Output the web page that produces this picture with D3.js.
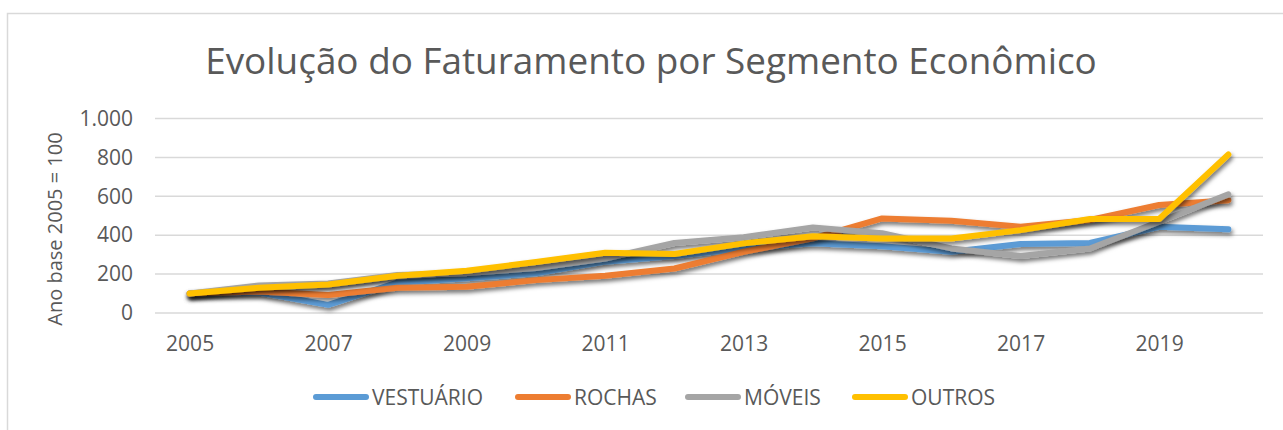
<!DOCTYPE html>
<html lang="pt">
    <head>
        <meta charset="utf-8">
        <title>Evolução do Faturamento por Segmento Econômico</title>
        <script type="text/javascript" src="https://cdn.jsdelivr.net/npm/d3@7"></script>
        <style>
            body { margin: 0; background: #fff; }
            svg text { font-family: "Open Sans", "DejaVu Sans", sans-serif; fill: #595959; }
        </style>
    </head>
    <body>
        <div class="chart"></div>
        <script type="text/javascript">
            // dados (índice, ano base 2005 = 100)
            var anos = [2005, 2006, 2007, 2008, 2009, 2010, 2011, 2012, 2013, 2014, 2015, 2016, 2017, 2018, 2019, 2020];
            var vestuario = [100, 105, 42, 156, 178, 204, 264, 293, 332, 358, 343, 315, 355, 360, 443, 430];
            var rochas    = [100, 110, 92, 130, 135, 169, 192, 229, 315, 384, 486, 474, 443, 478, 555, 580];
            var moveis    = [100, 142, 152, 195, 205, 231, 280, 360, 390, 440, 410, 332, 293, 332, 469, 610];
            var outros    = [100, 130, 147, 192, 217, 262, 310, 303, 358, 395, 383, 383, 426, 483, 483, 815];
            var yTicks = [0, 200, 400, 600, 800, 1000];
            var nomes = ["VESTUÁRIO", "ROCHAS", "MÓVEIS", "OUTROS"];
            var cores = ["#5B9BD5", "#ED7D31", "#A5A5A5", "#FFC000"];

            var series = [vestuario, rochas, moveis, outros].map(function(v, k){
                return {nome: nomes[k], cor: cores[k], valores: v};
            });

            var w = 1283;
            var h = 430;
            var svg = d3.select("div.chart")
                        .append("svg")
                        .attr("width", w)
                        .attr("height", h);

            // sombra das linhas
            var defs = svg.append("defs");
            defs.append("filter")
                .attr("id", "sombra")
                .attr("x", "-10%").attr("y", "-50%")
                .attr("width", "120%").attr("height", "200%")
                .append("feDropShadow")
                .attr("dx", 1.5)
                .attr("dy", 3)
                .attr("stdDeviation", 2.2)
                .attr("flood-color", "#000")
                .attr("flood-opacity", 0.55);

            // moldura
            svg.append("rect")
               .attr("x", 7.5).attr("y", 13.5)
               .attr("width", w).attr("height", h)
               .attr("fill", "none")
               .attr("stroke", "#D9D9D9")
               .attr("stroke-width", 1.5);

            // escalas
            var xScale = d3.scalePoint()
                           .domain(anos)
                           .range([155, 1263])
                           .padding(0.5);
            var yScale = d3.scaleLinear()
                           .domain([0, 1000])
                           .range([313, 118.5]);

            // grade horizontal
            svg.append("g")
               .selectAll("line")
               .data(yTicks)
               .enter()
               .append("line")
               .attr("x1", 155).attr("x2", 1263)
               .attr("y1", function(d){ return yScale(d); })
               .attr("y2", function(d){ return yScale(d); })
               .attr("stroke", "#D9D9D9")
               .attr("stroke-width", 1.5);

            // eixo y
            var yAxis = d3.axisLeft(yScale)
                          .tickValues(yTicks)
                          .tickSize(0)
                          .tickPadding(0)
                          .tickFormat(function(d){ return d3.format(",")(d).replace(",", "."); });
            var gy = svg.append("g")
                        .attr("transform", "translate(133, 0)")
                        .call(yAxis);
            gy.select(".domain").remove();
            gy.selectAll("text").attr("font-size", 21).attr("fill", "#595959")
              .style("font-family", "'Open Sans', sans-serif");

            // eixo x (rótulos a cada dois anos)
            var xAxis = d3.axisBottom(xScale)
                          .tickValues(anos.filter(function(d, i){ return i % 2 === 0; }))
                          .tickSize(0)
                          .tickPadding(0);
            var gx = svg.append("g")
                        .attr("transform", "translate(0, 334)")
                        .call(xAxis);
            gx.select(".domain").remove();
            gx.selectAll("text").attr("font-size", 21).attr("dy", "0.82em").attr("fill", "#595959")
              .style("font-family", "'Open Sans', sans-serif");

            // título do eixo y
            svg.append("text")
               .attr("transform", "translate(62, 229) rotate(-90)")
               .attr("text-anchor", "middle")
               .attr("font-size", 20)
               .text("Ano base 2005 = 100");

            // linhas
            var linha = d3.line()
                          .x(function(d, i){ return xScale(anos[i]); })
                          .y(function(d){ return yScale(d); });
            svg.append("g")
               .selectAll("path")
               .data(series)
               .enter()
               .append("path")
               .attr("d", function(d){ return linha(d.valores); })
               .attr("fill", "none")
               .attr("stroke", function(d){ return d.cor; })
               .attr("stroke-width", 6)
               .attr("stroke-linecap", "round")
               .attr("stroke-linejoin", "round")
               .attr("filter", "url(#sombra)");

            // título
            var titulo = svg.append("text")
                            .attr("x", 651)
                            .attr("y", 74)
                            .attr("text-anchor", "middle")
                            .attr("font-size", 34)
                            .text("Evolução do Faturamento por Segmento Econômico");
            var larg = titulo.node().getComputedTextLength();
            titulo.attr("font-size", 34 * 892 / larg);

            // legenda
            var legX = [313, 515, 685, 852];
            var leg = svg.append("g")
                         .selectAll("g")
                         .data(series)
                         .enter()
                         .append("g")
                         .attr("transform", function(d, i){ return "translate(" + legX[i] + ", 397)"; });
            leg.append("line")
               .attr("x1", 3).attr("x2", 53)
               .attr("stroke", function(d){ return d.cor; })
               .attr("stroke-width", 6)
               .attr("stroke-linecap", "round");
            leg.append("text")
               .attr("x", 59)
               .attr("dy", "0.36em")
               .attr("font-size", 21)
               .text(function(d){ return d.nome; });
        </script>
    </body>
</html>
